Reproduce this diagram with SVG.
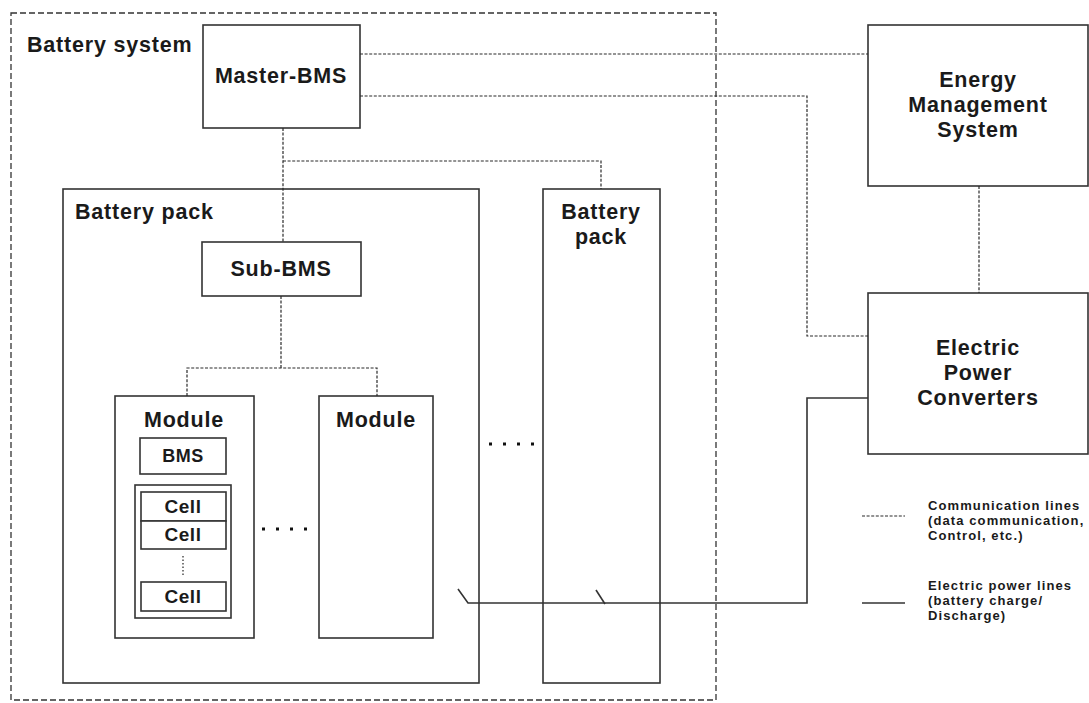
<svg xmlns="http://www.w3.org/2000/svg" width="1089" height="703" viewBox="0 0 1089 703">
<style>
.box{fill:#fff;stroke:#333;stroke-width:1.6}
.sys{fill:none;stroke:#333;stroke-width:1.3;stroke-dasharray:6 3}
.comm{fill:none;stroke:#2a2a2a;stroke-width:1.2;stroke-dasharray:3 1.6}
.pow{fill:none;stroke:#333;stroke-width:1.6}
.dots{fill:none;stroke:#111;stroke-width:3;stroke-dasharray:3 11}
.vdots{fill:none;stroke:#333;stroke-width:1.3;stroke-dasharray:1.5 2}
text{font-family:"Liberation Sans",Arial,sans-serif;font-weight:700;fill:#1a1a1a}
.l{font-size:21.5px;letter-spacing:0.8px}
.c{text-anchor:middle}
.s{font-size:18px;letter-spacing:0.5px}
.cell{font-size:19px;letter-spacing:0.6px}
.lg{font-size:13px;letter-spacing:1.1px}
</style>
<rect width="1089" height="703" fill="#fff"/>
<g id="battery-system">
<rect class="sys" x="11" y="13" width="705" height="687"/>
<text class="l" x="27" y="52">Battery system</text>
</g>
<g id="battery-pack-1">
<rect class="box" x="63" y="189" width="416" height="494"/>
<text class="l" x="75" y="219">Battery pack</text>
</g>
<g id="battery-pack-2">
<rect class="box" x="543" y="189" width="117" height="494"/>
<text class="l c" x="601" y="219">Battery<tspan x="601" dy="25">pack</tspan></text>
</g>
<g id="master-bms">
<rect class="box" x="203" y="25" width="157" height="103"/>
<text class="l c" x="281" y="83">Master-BMS</text>
</g>
<g id="sub-bms">
<rect class="box" x="202" y="242" width="159" height="54"/>
<text class="l c" x="281" y="276">Sub-BMS</text>
</g>
<g id="module-1">
<rect class="box" x="115" y="396" width="139" height="242"/>
<text class="l c" x="184" y="427">Module</text>
</g>
<g id="module-bms">
<rect class="box" x="140" y="438" width="86" height="36"/>
<text class="s c" x="183" y="462">BMS</text>
</g>
<g id="cells">
<rect class="box" x="135" y="485" width="96" height="133"/>
<rect class="box" x="141" y="492" width="85" height="29"/>
<text class="cell c" x="183" y="513">Cell</text>
<rect class="box" x="141" y="521" width="85" height="28"/>
<text class="cell c" x="183" y="541">Cell</text>
<line class="vdots" x1="183" y1="556" x2="183" y2="575"/>
<rect class="box" x="141" y="582" width="85" height="29"/>
<text class="cell c" x="183" y="603">Cell</text>
</g>
<g id="module-2">
<rect class="box" x="319" y="396" width="114" height="242"/>
<text class="l c" x="376" y="427">Module</text>
</g>
<g id="ellipsis">
<line class="dots" x1="262" y1="529" x2="310" y2="529"/>
<line class="dots" x1="489" y1="444" x2="537" y2="444"/>
</g>
<g id="ems">
<rect class="box" x="868" y="25" width="220" height="161"/>
<text class="l c" x="978" y="87">Energy<tspan x="978" dy="25">Management</tspan><tspan x="978" dy="25">System</tspan></text>
</g>
<g id="epc">
<rect class="box" x="868" y="293" width="220" height="161"/>
<text class="l c" x="978" y="355">Electric<tspan x="978" dy="25">Power</tspan><tspan x="978" dy="25">Converters</tspan></text>
</g>
<g id="connectors">
<line class="comm" x1="360" y1="54" x2="868" y2="54"/>
<polyline class="comm" points="360,96 807,96 807,336 868,336"/>
<line class="comm" x1="979" y1="186" x2="979" y2="293"/>
<line class="comm" x1="283" y1="128" x2="283" y2="242"/>
<polyline class="comm" points="283,161 601,161 601,189"/>
<line class="comm" x1="281" y1="296" x2="281" y2="368"/>
<polyline class="comm" points="187,396 187,368 377,368 377,396"/>
<polyline class="pow" points="868,398 807,398 807,603 468,603 458,589"/>
<line class="pow" x1="596" y1="590" x2="605" y2="604"/>
</g>
<g id="legend">
<line class="comm" x1="862" y1="516" x2="905" y2="516"/>
<text class="lg" x="928" y="510">Communication lines<tspan x="928" dy="15">(data communication,</tspan><tspan x="928" dy="15">Control, etc.)</tspan></text>
<line class="pow" x1="862" y1="603" x2="905" y2="603"/>
<text class="lg" x="928" y="590">Electric power  lines<tspan x="928" dy="15">(battery  charge/</tspan><tspan x="928" dy="15">Discharge)</tspan></text>
</g>
</svg>
